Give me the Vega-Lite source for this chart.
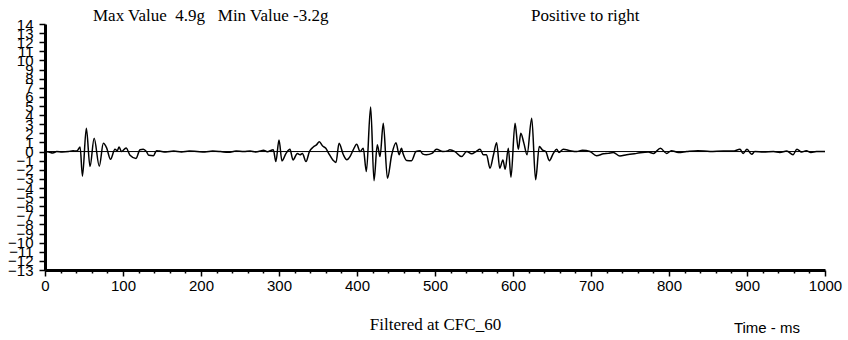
{
  "$schema": "https://vega.github.io/schema/vega-lite/v6.json",
  "width": 780,
  "height": 246,
  "autosize": {"type": "none"},
  "padding": {"left": 45, "top": 24, "right": 23, "bottom": 70},
  "background": "white",
  "config": {"view": {"stroke": null}},
  "datasets": {
    "signal": [
      {"t": 0, "g": 0}, {"t": 5, "g": -0.05}, {"t": 10, "g": -0.15}, {"t": 15, "g": 0.0}, {"t": 22, "g": -0.05},
      {"t": 30, "g": 0.0}, {"t": 36, "g": 0.1}, {"t": 40, "g": 0.05}, {"t": 42, "g": 0.15}, {"t": 45, "g": 0.5},
      {"t": 48, "g": -2.7}, {"t": 53, "g": 2.55}, {"t": 57.7, "g": -1.65}, {"t": 63, "g": 1.45}, {"t": 69.6, "g": -1.6},
      {"t": 74.8, "g": 0.9}, {"t": 79, "g": 0.4}, {"t": 84, "g": -0.85}, {"t": 89.7, "g": 0.25}, {"t": 92.7, "g": 0.1},
      {"t": 95, "g": 0.5}, {"t": 98, "g": 0.0}, {"t": 104, "g": 0.4}, {"t": 109, "g": -0.4}, {"t": 116.7, "g": -0.75},
      {"t": 121.8, "g": 0.2}, {"t": 126, "g": 0.25}, {"t": 130, "g": 0.0}, {"t": 133, "g": -0.4}, {"t": 139, "g": -0.45},
      {"t": 143, "g": 0.1}, {"t": 147, "g": 0.05}, {"t": 155, "g": -0.05}, {"t": 165, "g": 0.05}, {"t": 175, "g": -0.05},
      {"t": 185, "g": 0.05}, {"t": 195, "g": 0.0}, {"t": 205, "g": -0.05}, {"t": 215, "g": 0.05}, {"t": 225, "g": 0.0},
      {"t": 235, "g": -0.08}, {"t": 245, "g": 0.05}, {"t": 255, "g": 0.0}, {"t": 263, "g": 0.05}, {"t": 270, "g": -0.05},
      {"t": 276, "g": 0.05}, {"t": 280, "g": 0.15}, {"t": 285, "g": -0.02}, {"t": 292.7, "g": 0.2}, {"t": 296, "g": -1.1},
      {"t": 300, "g": 1.27}, {"t": 303.8, "g": -1.03}, {"t": 309, "g": -0.2}, {"t": 314, "g": 0.25}, {"t": 318, "g": -0.92},
      {"t": 323.5, "g": -0.2}, {"t": 327, "g": -0.35}, {"t": 330, "g": -0.2}, {"t": 334.6, "g": -1.1}, {"t": 339, "g": 0.0},
      {"t": 344, "g": 0.5}, {"t": 348, "g": 0.73}, {"t": 351.7, "g": 1.08}, {"t": 356, "g": 0.6}, {"t": 360, "g": 0.36},
      {"t": 363.7, "g": -0.2}, {"t": 369, "g": -0.92}, {"t": 373, "g": -1.2}, {"t": 377, "g": 0.9}, {"t": 382.5, "g": -0.35},
      {"t": 387, "g": -0.9}, {"t": 391, "g": -0.55}, {"t": 395, "g": 0.15}, {"t": 399.6, "g": 0.8}, {"t": 404, "g": 0.0},
      {"t": 408, "g": 0.37}, {"t": 412, "g": -2.2}, {"t": 417.5, "g": 4.9}, {"t": 421.8, "g": -3.2}, {"t": 426, "g": 0.75},
      {"t": 429.5, "g": -0.55}, {"t": 433.7, "g": 3.1}, {"t": 439, "g": -2.93}, {"t": 444.5, "g": -0.35}, {"t": 450, "g": 0.98},
      {"t": 454, "g": -0.35}, {"t": 457, "g": 0.35}, {"t": 459, "g": -0.2}, {"t": 463.7, "g": -0.98}, {"t": 470, "g": -1.0},
      {"t": 475.6, "g": 0.0}, {"t": 481, "g": 0.1}, {"t": 484, "g": -0.25}, {"t": 489, "g": -0.35}, {"t": 496, "g": -0.2},
      {"t": 502, "g": 0.25}, {"t": 510, "g": 0.0}, {"t": 517, "g": 0.1}, {"t": 519, "g": 0.2}, {"t": 525.6, "g": 0.0},
      {"t": 534, "g": -0.55}, {"t": 540.6, "g": 0.0}, {"t": 547, "g": -0.25}, {"t": 552.6, "g": 0.0}, {"t": 557.7, "g": 0.25},
      {"t": 562, "g": -0.35}, {"t": 566, "g": -0.35}, {"t": 570.5, "g": -1.83}, {"t": 575, "g": -0.35}, {"t": 579, "g": 0.98},
      {"t": 583, "g": -1.83}, {"t": 587, "g": -0.92}, {"t": 590, "g": -1.95}, {"t": 594, "g": 0.37}, {"t": 597.4, "g": -2.82},
      {"t": 602.6, "g": 3.1}, {"t": 606.8, "g": 0.25}, {"t": 610, "g": 2.0}, {"t": 614, "g": 0.9}, {"t": 618, "g": -0.35},
      {"t": 624, "g": 3.66}, {"t": 629, "g": -3.1}, {"t": 633.7, "g": 0.55}, {"t": 638, "g": 0.15}, {"t": 642, "g": 0.0},
      {"t": 646.6, "g": -1.0}, {"t": 651.7, "g": -0.2}, {"t": 656, "g": 0.25}, {"t": 659, "g": -0.1}, {"t": 664.5, "g": 0.25},
      {"t": 673, "g": 0.1}, {"t": 681.6, "g": 0.0}, {"t": 689, "g": 0.15}, {"t": 698.7, "g": 0.0}, {"t": 707, "g": -0.45},
      {"t": 716, "g": -0.25}, {"t": 722, "g": -0.2}, {"t": 728.6, "g": -0.1}, {"t": 737, "g": -0.5}, {"t": 745.7, "g": -0.35},
      {"t": 758.6, "g": -0.2}, {"t": 773.5, "g": -0.05}, {"t": 780, "g": -0.2}, {"t": 789, "g": 0.35}, {"t": 797, "g": -0.2},
      {"t": 803, "g": 0.1}, {"t": 812, "g": -0.1}, {"t": 822.6, "g": 0.0}, {"t": 837, "g": 0.1}, {"t": 852.6, "g": 0.0},
      {"t": 869.7, "g": 0.05}, {"t": 882, "g": 0.05}, {"t": 891, "g": 0.25}, {"t": 895, "g": -0.2}, {"t": 900, "g": 0.25},
      {"t": 906, "g": -0.3}, {"t": 910, "g": 0.0}, {"t": 921, "g": -0.05}, {"t": 934, "g": 0.0}, {"t": 942, "g": -0.1},
      {"t": 951, "g": 0.05}, {"t": 959, "g": -0.35}, {"t": 964, "g": 0.25}, {"t": 970, "g": -0.05}, {"t": 976, "g": 0.1},
      {"t": 982, "g": -0.1}, {"t": 989, "g": 0.0}, {"t": 1000, "g": 0.0}
    ],
    "notes": [
      {"label": "Max Value\u00a0\u00a04.9g\u00a0\u00a0\u00a0Min Value -3.2g", "t": 61.5, "g": 14.3},
      {"label": "Positive to right", "t": 623, "g": 14.3}
    ],
    "unit": [
      {"label": "Time - ms", "t": 968, "g": -19.9}
    ]
  },
  "encoding": {
    "x": {
      "field": "t", "type": "quantitative",
      "scale": {"domain": [0, 1000], "nice": false},
      "axis": {
        "values": [0,20,40,60,80,100,120,140,160,180,200,220,240,260,280,300,320,340,360,380,400,420,440,460,480,500,520,540,560,580,600,620,640,660,680,700,720,740,760,780,800,820,840,860,880,900,920,940,960,980,1000],
        "labelExpr": "datum.value % 100 === 0 ? datum.label : ''",
        "format": "d",
        "labelOverlap": false,
        "labelFlush": false,
        "labelFont": "Liberation Sans",
        "labelFontSize": 15,
        "labelColor": "black",
        "labelPadding": 2,
        "domainColor": "black",
        "domainWidth": 3,
        "tickColor": "black",
        "tickWidth": 1.5,
        "tickSize": {"condition": {"test": "datum.value % 100 === 0", "value": 6}, "value": 3},
        "grid": false,
        "title": "Filtered at CFC_60",
        "titleFont": "Liberation Serif",
        "titleFontSize": 17,
        "titleFontWeight": "normal",
        "titleColor": "black",
        "titlePadding": 23
      }
    },
    "y": {
      "field": "g", "type": "quantitative",
      "scale": {"domain": [-13, 14], "nice": false, "zero": false},
      "axis": {
        "values": [-13,-12,-11,-10,-9,-8,-7,-6,-5,-4,-3,-2,-1,0,1,2,3,4,5,6,7,8,9,10,11,12,13,14],
        "format": "d",
        "labelOverlap": false,
        "labelFlush": false,
        "labelFont": "Liberation Sans",
        "labelFontSize": 15,
        "labelColor": "black",
        "labelPadding": 6,
        "domainColor": "black",
        "domainWidth": 3,
        "tickColor": "black",
        "tickWidth": 1.5,
        "tickSize": 6,
        "grid": false,
        "title": null
      }
    }
  },
  "layer": [
    {
      "data": {"name": "signal"},
      "mark": {"type": "line", "color": "black", "strokeWidth": 1.5, "interpolate": "monotone"}
    },
    {
      "data": {"name": "notes"},
      "mark": {"type": "text", "align": "left", "baseline": "alphabetic", "font": "Liberation Serif", "fontSize": 17, "color": "black"},
      "encoding": {"text": {"field": "label"}}
    },
    {
      "data": {"name": "unit"},
      "mark": {"type": "text", "align": "right", "baseline": "alphabetic", "font": "Liberation Sans", "fontSize": 15, "color": "black"},
      "encoding": {"text": {"field": "label"}}
    },
    {
      "data": {"name": "unit"},
      "mark": {"type": "rule", "color": "black", "strokeWidth": 1},
      "encoding": {"x": {"value": 0}, "x2": {"value": 780}, "y": {"datum": 0, "type": "quantitative"}}
    }
  ]
}
